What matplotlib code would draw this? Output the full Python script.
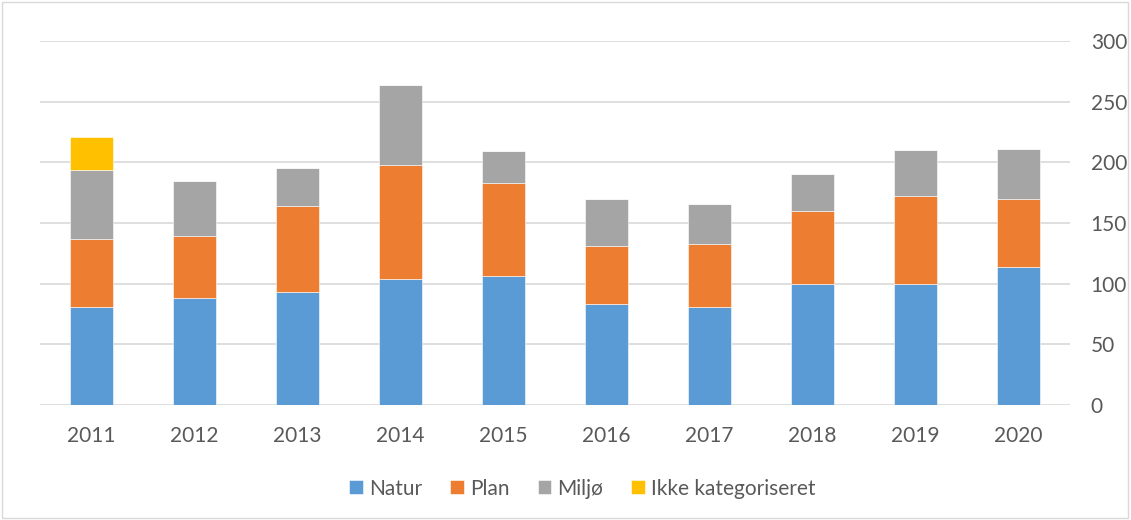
import matplotlib.pyplot as plt
from matplotlib.patches import Rectangle

plt.rcParams['font.family'] = ['Lato', 'DejaVu Sans']

years = ["2011", "2012", "2013", "2014", "2015", "2016", "2017", "2018", "2019", "2020"]
natur = [81, 88, 93, 104, 106, 83, 81, 100, 100, 114]
plan = [56, 51, 71, 94, 77, 48, 52, 60, 72, 56]
miljo = [57, 46, 31, 66, 26, 39, 33, 30, 38, 41]
ikke = [27, 0, 0, 0, 0, 0, 0, 0, 0, 0]

colors = ["#5b9bd5", "#ed7d31", "#a5a5a5", "#ffc000"]
labels = ["Natur", "Plan", "Miljø", "Ikke kategoriseret"]
series = [natur, plan, miljo, ikke]

fig = plt.figure(figsize=(11.31, 5.20), dpi=100)
ax = fig.add_axes([0.0354, 0.2212, 0.9106, 0.70])

x = list(range(len(years)))
bottom = [0] * len(years)
for vals, c, lab in zip(series, colors, labels):
    ax.bar(x, vals, width=0.41, bottom=bottom, color=c, label=lab, zorder=3,
           edgecolor="white", linewidth=0.4)
    bottom = [b + v for b, v in zip(bottom, vals)]

ax.set_xlim(-0.5, 9.5)
ax.set_ylim(0, 300)
ax.set_xticks(x)
ax.set_xticklabels(years)
ax.set_yticks(range(0, 301, 50))
ax.yaxis.tick_right()
ax.grid(axis="y", color="#d9d9d9", linewidth=1.2, zorder=0)
for s in ax.spines.values():
    s.set_visible(False)
ax.tick_params(axis="both", length=0, labelsize=15, labelcolor="#595959")
ax.tick_params(axis="x", pad=15)
ax.tick_params(axis="y", pad=15)

fig.legend(loc="lower center", bbox_to_anchor=(0.515, 0.005), ncol=4, frameon=False,
           fontsize=15, labelcolor="#595959", handlelength=0.65, handleheight=0.65,
           handletextpad=0.3, columnspacing=1.35)

# thin border round the whole chart
fig.patches.append(Rectangle((0.002, 0.003), 0.995, 0.994, transform=fig.transFigure,
                             fill=False, edgecolor="#d9d9d9", linewidth=1))

fig.savefig("out.png", dpi=100)
